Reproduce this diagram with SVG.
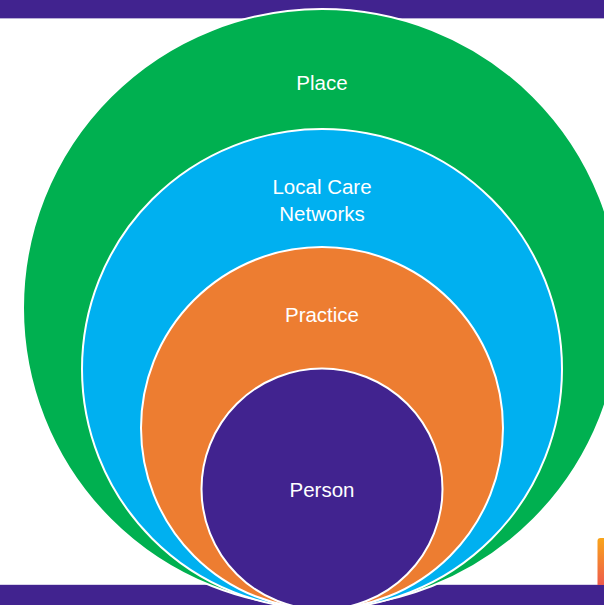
<svg xmlns="http://www.w3.org/2000/svg" width="604" height="605" viewBox="0 0 604 605">
  <style>
    .ring { stroke: #ffffff; stroke-width: 2; }
    .lbl { font-family: "Liberation Sans", Arial, sans-serif; font-size: 20.5px; fill: #ffffff; text-anchor: middle; }
    .bar { fill: #41238F; }
  </style>
  <defs>
    <linearGradient id="tab" x1="0" y1="0" x2="0" y2="1">
      <stop offset="0" stop-color="#F9A51A"/>
      <stop offset="1" stop-color="#EE5B4C"/>
    </linearGradient>
  </defs>
  <rect width="604" height="605" fill="#ffffff"/>
  <g id="frame">
    <rect class="bar" x="0" y="0" width="604" height="18"/>
    <rect x="0" y="18" width="604" height="1" fill="#B9AED6"/>
    <rect x="0" y="584" width="604" height="1" fill="#D9D3EA"/>
    <rect class="bar" x="0" y="585" width="604" height="20"/>
    <path d="M597.5,585 V541 Q597.5,538 600.5,538 H604 V585 Z" fill="url(#tab)"/>
  </g>
  <g id="connectors"></g>
  <g id="place">
    <circle class="ring" cx="322" cy="308" r="299" fill="#00B050"/>
    <text class="lbl" x="322" y="90">Place</text>
  </g>
  <g id="local-care-networks">
    <circle class="ring" cx="322" cy="369" r="240" fill="#00B0F0"/>
    <text class="lbl" x="322" y="194">Local Care</text>
    <text class="lbl" x="322" y="221">Networks</text>
  </g>
  <g id="practice">
    <circle class="ring" cx="322" cy="428" r="181" fill="#ED7D31"/>
    <text class="lbl" x="322" y="322">Practice</text>
  </g>
  <g id="person">
    <circle class="ring" cx="322" cy="489" r="120.5" fill="#41238F"/>
    <text class="lbl" x="322" y="497">Person</text>
  </g>
</svg>
